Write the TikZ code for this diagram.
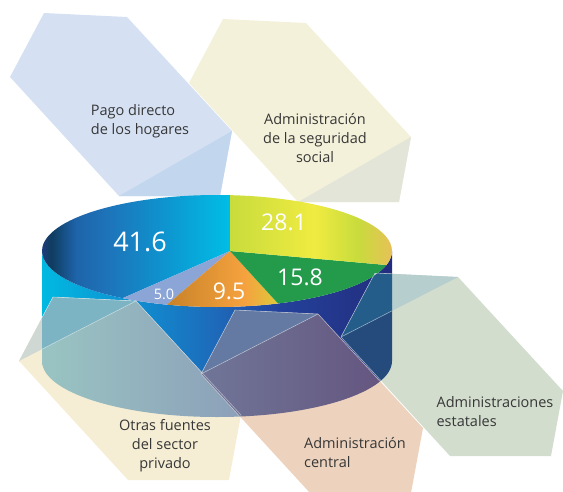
\documentclass[tikz,border=0pt]{standalone}
\usepackage{fontspec}
\setmainfont{Open Sans}
\usetikzlibrary{calc}

\definecolor{txtgray}{RGB}{55,55,55}
\definecolor{pagoc}{RGB}{213,225,243}
\definecolor{pagofold}{RGB}{194,215,238}
\definecolor{segc}{RGB}{244,241,218}
\definecolor{segfold}{RGB}{227,229,217}
\definecolor{otrasc}{RGB}{245,238,212}
\definecolor{otrasfold}{RGB}{208,216,212}
\definecolor{otrasovA}{RGB}{155,200,195}
\definecolor{otrasovB}{RGB}{140,160,185}
\definecolor{otrasfoldov}{RGB}{125,180,196}
\definecolor{centc}{RGB}{237,211,190}
\definecolor{centovA}{RGB}{112,118,152}
\definecolor{centovB}{RGB}{98,78,122}
\definecolor{centfoldov}{RGB}{100,122,162}
\definecolor{estc}{RGB}{210,221,206}
\definecolor{estfold}{RGB}{182,206,206}
\definecolor{estov}{RGB}{37,75,125}
\definecolor{estfoldov}{RGB}{36,92,138}
\definecolor{sideA}{RGB}{0,185,225}
\definecolor{sideB}{RGB}{15,145,210}
\definecolor{sideC}{RGB}{30,105,185}
\definecolor{sideD}{RGB}{35,65,155}
\definecolor{sideE}{RGB}{35,45,125}
\definecolor{bigA}{RGB}{40,60,140}
\definecolor{bigB}{RGB}{15,60,95}
\definecolor{bigC}{RGB}{30,100,170}
\definecolor{bigD}{RGB}{30,115,185}
\definecolor{bigE}{RGB}{15,145,205}
\definecolor{bigF}{RGB}{0,190,230}
\definecolor{yelA}{RGB}{200,220,60}
\definecolor{yelB}{RGB}{240,235,65}
\definecolor{yelC}{RGB}{240,185,95}
\definecolor{oraA}{RGB}{200,130,40}
\definecolor{oraB}{RGB}{245,162,62}
\definecolor{oraC}{RGB}{222,200,60}
\definecolor{greenc}{RGB}{35,155,75}
\definecolor{lilac}{RGB}{140,165,215}

\pgfdeclarehorizontalshading{sideshade}{100bp}{color(0bp)=(sideA); color(25bp)=(sideA); color(37.5bp)=(sideB); color(50bp)=(sideC); color(59bp)=(sideD); color(75bp)=(sideE); color(100bp)=(sideE)}
\pgfdeclarehorizontalshading{bigshade}{100bp}{color(0bp)=(bigA); color(25bp)=(bigA); color(28.5bp)=(bigB); color(35bp)=(bigC); color(43bp)=(bigD); color(56.5bp)=(bigE); color(75bp)=(bigF); color(100bp)=(bigF)}
\pgfdeclarehorizontalshading{yelshade}{100bp}{color(0bp)=(yelA); color(25bp)=(yelA); color(49.5bp)=(yelB); color(62bp)=(yelA); color(75bp)=(yelC); color(100bp)=(yelC)}
\pgfdeclarehorizontalshading{orashade}{100bp}{color(0bp)=(oraA); color(25bp)=(oraA); color(60bp)=(oraB); color(75bp)=(oraC); color(100bp)=(oraC)}

% label shape, from its upper left corner
\newcommand\hexpath{(0,0) -- ++(83,4) -- ++(105,114) -- ++(-12,65) -- ++(-101,0) -- ++(-109,-119) -- cycle}
\newcommand\lowpart{(83,4) -- (188,118) -- (176,183) -- (75,183) -- (-34,64) -- cycle}
\newcommand\topfold{(-34,64) -- (0,0) -- (83,4) -- cycle}
\newcommand\botfold{(75,183) -- (188,118) -- (176,183) -- cycle}
\newcommand\sidepath{([shift={(180:175pt and 56pt)}]C) arc[start angle=180, end angle=360] -- ([shift={(0:175pt and 56pt)}]B) arc[start angle=0, end angle=-180] -- cycle}

\begin{document}
\begin{tikzpicture}[x=1pt, y=-1pt, x radius=175pt, y radius=56pt,
  lbl/.style={text=txtgray, font=\fontsize{14.5}{19}\selectfont, inner sep=0pt},
  num/.style={text=white, inner sep=0pt},
  edge line/.style={draw=white, draw opacity=.45, line width=.6pt}]
\useasboundingbox (0,0) rectangle (563,491);

\coordinate (C) at (217,251);
\coordinate (B) at (217,361);
\coordinate (A) at (230,251);

% upper labels
\begin{scope}[shift={(223,19)}]
\fill[segc] \hexpath;
\fill[segfold] \botfold;
\end{scope}
\begin{scope}[shift={(44,13)}]
\fill[pagoc] \hexpath;
\fill[pagofold] \botfold;
\end{scope}

% pie
\shade[shading=sideshade] \sidepath;
\coordinate (p0) at ([shift={(85.7:175pt and 56pt)}]C);
\coordinate (p1) at ([shift={(237.4:175pt and 56pt)}]C);
\coordinate (p2) at ([shift={(253.4:175pt and 56pt)}]C);
\coordinate (p3) at ([shift={(290.4:175pt and 56pt)}]C);
\coordinate (p4) at ([shift={(345.5:175pt and 56pt)}]C);
\shade[shading=bigshade] (A) -- (p0) arc[start angle=85.7, end angle=237.4] -- cycle;
\fill[lilac] (A) -- (p1) arc[start angle=237.4, end angle=253.4] -- cycle;
\shade[shading=orashade] (A) -- (p2) arc[start angle=253.4, end angle=290.4] -- cycle;
\fill[greenc] (A) -- (p3) arc[start angle=290.4, end angle=345.5] -- cycle;
\shade[shading=yelshade] (A) -- (p4) arc[start angle=345.5, end angle=445.7] -- cycle;

% lower labels
\begin{scope}[shift={(53,297)}]
\fill[otrasc] \hexpath;
\fill[otrasfold] \topfold;
\begin{scope}
\clip \sidepath;
\shade[left color=otrasovA, right color=otrasovB] \lowpart;
\fill[otrasfoldov] \topfold;
\end{scope}
\end{scope}
\begin{scope}[shift={(235,310)}]
\fill[centc] \hexpath;
\begin{scope}
\clip \sidepath;
\shade[left color=centovA, right color=centovB] \lowpart;
\fill[centfoldov] \topfold;
\end{scope}
\end{scope}
\begin{scope}[shift={(375,273)}]
\fill[estc] \hexpath;
\fill[estfold] \topfold;
\begin{scope}
\clip \sidepath;
\fill[estov] \lowpart;
\fill[estfoldov] \topfold;
\end{scope}
\end{scope}
\begin{scope}
\clip \sidepath;
\foreach \pos in {(53,297), (235,310), (375,273)} {
  \draw[edge line, shift=\pos] \hexpath (-34,64) -- (83,4);
}
\end{scope}

% values
\node[num, font=\fontsize{27}{27}\selectfont] (v416) at (140,242) {41.6};
\node[num, font=\fontsize{23}{23}\selectfont] (v281) at (284,222) {28.1};
\node[num, font=\fontsize{23}{23}\selectfont] (v158) at (300,277) {15.8};
\node[num, font=\fontsize{23}{23}\selectfont] (v95) at (229,291) {9.5};
\node[num, font=\fontsize{14.5}{14.5}\selectfont] (v50) at (164,294) {5.0};

% texts
\node[lbl, align=left] (pago) at (140,121) {Pago directo\\de los hogares};
\node[lbl, align=center] (seg) at (315,138) {Administración\\de la seguridad\\social};
\node[lbl, align=center] (otras) at (165,446) {Otras fuentes\\del sector\\privado};
\node[lbl, align=left] (cent) at (355,453) {Administración\\central};
\node[lbl, align=left] (est) at (495,412) {Administraciones\\estatales};
\end{tikzpicture}
\end{document}
